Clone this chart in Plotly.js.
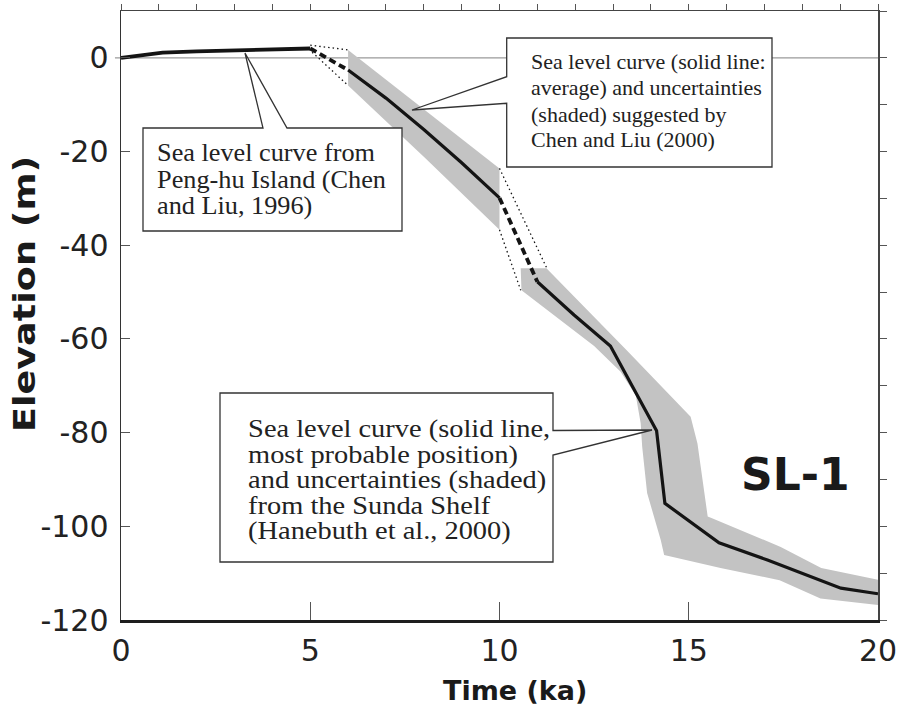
<!DOCTYPE html>
<html>
<head>
<meta charset="utf-8">
<script src="https://cdn.plot.ly/plotly-3.0.1.min.js"></script>
<style>html,body{margin:0;padding:0;background:#fff;}#chart{width:898px;height:710px;}</style>
</head>
<body>
<div id="chart"></div>
<script>
// ---------- DATA ----------
// Peng-hu Island curve (Chen and Liu, 1996)
const penghuX = [0, 1.1, 2, 3, 4, 5];
const penghuY = [0, 1.1, 1.4, 1.6, 1.8, 2.0];
// Chen and Liu (2000) average curve
const chenX = [6, 7, 8, 9, 10];
const chenY = [-2.6, -8.6, -15.3, -22.4, -29.9];
// Chen and Liu (2000) uncertainty band
const chenBandX = [6, 8, 10, 10, 8, 6];
const chenBandY = [1.7, -11.0, -23.6, -36.7, -21.1, -5.9];
// dashed connectors
const dash1X = [5, 6];
const dash1Y = [2.0, -2.6];
const dash2X = [10, 11];
const dash2Y = [-29.9, -47.8];
// dotted uncertainty connectors
const dotUp1X = [5, 6];
const dotUp1Y = [2.7, 1.7];
const dotLo1X = [5.05, 6];
const dotLo1Y = [1.2, -5.9];
const dotUp2X = [10, 11.25];
const dotUp2Y = [-23.6, -44.9];
const dotLo2X = [10, 10.56];
const dotLo2Y = [-36.7, -49.6];
// Sunda Shelf (Hanebuth et al., 2000) most probable curve
const sundaX = [11, 11.97, 12.93, 14.15, 14.37, 15.8, 17.08, 18.32, 19.02, 20];
const sundaY = [-47.8, -54.9, -61.5, -79.6, -95.1, -103.5, -107.2, -111.1, -113.2, -114.4];
// Sunda Shelf uncertainty band (polygon)
const sundaBandX = [10.56, 11.24, 13.36, 15.05, 15.23, 15.5, 15.6, 16.37, 17.43, 18.5, 20,
                    20, 18.48, 17.4, 15.84, 14.35, 14.26, 13.9, 13.77, 13.73, 13.6, 13.2, 12.5, 10.58];
const sundaBandY = [-44.9, -44.9, -62.4, -76.6, -82.3, -97.9, -98.2, -100.8, -104.4, -108.9, -111.4,
                    -116.8, -115.4, -111.5, -108.9, -106.1, -102.9, -92.9, -83.0, -78.0, -72.0, -67.0, -61.5, -49.6];
// tick values and labels
const xTicks = [0, 5, 10, 15, 20];
const xTickText = ['0', '5', '10', '15', '20'];
const yTicks = [-120, -100, -80, -60, -40, -20, 0];
const yTickText = ['-120', '-100', '-80', '-60', '-40', '-20', '0'];

// ---------- LAYOUT HELPERS ----------
const W = 898, H = 710, ML = 121, MR = 20, MT = 11, MB = 90;
const PW = W - ML - MR, PH = H - MT - MB;
const px = v => (v - ML) / PW;
const py = v => (H - MB - v) / PH;
function pathFrom(pts) {
  return 'M' + pts.map(p => px(p[0]).toFixed(5) + ',' + py(p[1]).toFixed(5)).join('L') + 'Z';
}

const GRAY = '#c3c3c3';
const INK = '#141414';

const traces = [
  {x: chenBandX, y: chenBandY, mode: 'lines', fill: 'toself', fillcolor: GRAY, line: {width: 0, color: GRAY}, hoverinfo: 'skip'},
  {x: sundaBandX, y: sundaBandY, mode: 'lines', fill: 'toself', fillcolor: GRAY, line: {width: 0, color: GRAY}, hoverinfo: 'skip'},
  {x: dotUp1X, y: dotUp1Y, mode: 'lines', line: {color: INK, width: 1.3, dash: '1.5px,3px'}},
  {x: dotLo1X, y: dotLo1Y, mode: 'lines', line: {color: INK, width: 1.3, dash: '1.5px,3px'}},
  {x: dotUp2X, y: dotUp2Y, mode: 'lines', line: {color: INK, width: 1.3, dash: '1.5px,3px'}},
  {x: dotLo2X, y: dotLo2Y, mode: 'lines', line: {color: INK, width: 1.3, dash: '1.5px,3px'}},
  {x: dash1X, y: dash1Y, mode: 'lines', line: {color: INK, width: 3.8, dash: '7px,4px'}},
  {x: dash2X, y: dash2Y, mode: 'lines', line: {color: INK, width: 3.8, dash: '7px,4px'}},
  {x: penghuX, y: penghuY, mode: 'lines', line: {color: INK, width: 3.8}},
  {x: chenX, y: chenY, mode: 'lines', line: {color: INK, width: 3.2}},
  {x: sundaX, y: sundaY, mode: 'lines', line: {color: INK, width: 3.2}},
  {x: [0], y: [0], xaxis: 'x2', yaxis: 'y2', mode: 'markers', marker: {opacity: 0}, hoverinfo: 'skip'}
];

const serif = 'Liberation Serif, Times New Roman, serif';
const sans = 'DejaVu Sans, Arial, sans-serif';

function lines(arr, x0, ys, size) {
  return arr.map((t, i) => ({
    text: t, xref: 'paper', yref: 'paper', x: px(x0), y: py(ys[i]),
    xanchor: 'left', yanchor: 'middle', showarrow: false,
    font: {family: serif, size: size, color: '#222'}
  }));
}

const box1Text = ['Sea level curve from', 'Peng-hu Island (Chen', 'and Liu, 1996)'];
const box2Text = ['Sea level curve (solid line:', 'average) and uncertainties', '(shaded) suggested by', 'Chen and Liu (2000)'];
const box3Text = ['Sea level curve (solid line,', 'most probable position)', 'and uncertainties (shaded)', 'from the Sunda Shelf', '(Hanebuth et al., 2000)'];

const annotations = [].concat(
  lines(box1Text, 155, [152, 179, 205], 25.5),
  lines(box2Text, 529, [61, 88, 114, 140], 22),
  lines(box3Text, 246, [429, 455, 480, 505, 531], 24.5),
  [
    {text: '<b>SL-1</b>', xref: 'paper', yref: 'paper', x: px(795), y: py(474), xanchor: 'center', yanchor: 'middle', showarrow: false, font: {family: sans, size: 44, color: '#1a1a1a'}},
    {text: '<b>Elevation (m)</b>', xref: 'paper', yref: 'paper', x: px(24), y: py(294), xanchor: 'center', yanchor: 'middle', textangle: -90, showarrow: false, font: {family: sans, size: 31, color: '#1a1a1a'}},
    {text: '<b>Time (ka)</b>', xref: 'paper', yref: 'paper', x: px(515), y: py(690), xanchor: 'center', yanchor: 'middle', showarrow: false, font: {family: sans, size: 27, color: '#1a1a1a'}}
  ]
);

// horizontal stretch per annotation index (the reference lettering is widened)
const stretch = {};
[0, 1, 2].forEach(i => stretch[i] = {s: 1.03, a: 'left'});
[7, 8, 9, 10, 11].forEach(i => stretch[i] = {s: 1.16, a: 'left'});
stretch[13] = {s: 1.18, a: 'center'};

const boxStyle = {type: 'path', xref: 'paper', yref: 'paper', fillcolor: '#fff', line: {color: '#333', width: 1.3}, layer: 'above'};
const shapes = [
  {type: 'line', xref: 'paper', yref: 'y', x0: -0.008, x1: 1, y0: 0, y1: 0, line: {color: '#9a9a9a', width: 1.2}, layer: 'below'},
  Object.assign({path: pathFrom([[143,128],[263,128],[245,53],[287,128],[402,128],[402,231],[143,231]])}, boxStyle),
  Object.assign({path: pathFrom([[506.7,38],[772,38],[772,167],[506.7,167],[506.7,103.3],[412,110],[506.7,76.7]])}, boxStyle),
  Object.assign({path: pathFrom([[220,393],[553,393],[553,430.5],[652,430],[553,455],[553,562],[220,562]])}, boxStyle)
];

const layout = {
  width: W, height: H,
  margin: {l: ML, r: MR, t: MT, b: MB},
  paper_bgcolor: '#fff', plot_bgcolor: '#fff',
  showlegend: false,
  xaxis: {range: [0, 20], tickvals: xTicks, ticktext: xTickText, ticks: 'inside', ticklen: 18, tickwidth: 1, tickcolor: '#555',
          showline: true, linecolor: '#1e1e1e', linewidth: 2.5, showgrid: false, zeroline: false,
          tickfont: {family: sans, size: 30, color: '#222'}, ticklabelstandoff: 2},
  xaxis2: {range: [0, 20], overlaying: 'x', side: 'top', anchor: 'y', dtick: 1, tick0: 0, ticks: 'outside', ticklen: 6, tickwidth: 1, tickcolor: '#555',
           showline: true, linecolor: '#444', linewidth: 1.2, showgrid: false, zeroline: false, showticklabels: false},
  yaxis: {range: [-120, 10], tickvals: yTicks, ticktext: yTickText, ticks: 'inside', ticklen: 9, tickwidth: 1, tickcolor: '#555',
          showline: true, linecolor: '#333', linewidth: 1.5, showgrid: false, zeroline: false,
          tickfont: {family: sans, size: 30, color: '#222'}, ticklabelstandoff: 5},
  yaxis2: {range: [-120, 10], overlaying: 'y', side: 'right', anchor: 'x', dtick: 10, tick0: 0, ticks: 'outside', ticklen: 7, tickwidth: 1, tickcolor: '#555',
           showline: true, linecolor: '#444', linewidth: 1.5, showgrid: false, zeroline: false, showticklabels: false},
  annotations: annotations,
  shapes: shapes
};

Plotly.newPlot('chart', traces, layout, {staticPlot: true, displayModeBar: false}).then(() => {
  document.querySelectorAll('#chart g.annotation').forEach(g => {
    const idx = +g.getAttribute('data-index');
    const st = stretch[idx];
    if (!st) return;
    const t = g.querySelector('text.annotation-text');
    if (!t) return;
    const b = t.getBBox();
    const ax = st.a === 'left' ? b.x : b.x + b.width / 2;
    t.setAttribute('transform', 'matrix(' + st.s + ',0,0,1,' + (ax * (1 - st.s)).toFixed(2) + ',0)');
  });
});
</script>
</body>
</html>
